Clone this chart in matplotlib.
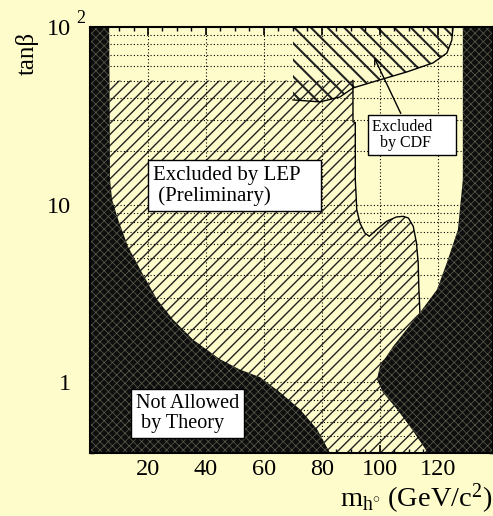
import matplotlib
matplotlib.use('Agg')
import matplotlib.pyplot as plt
from matplotlib.ticker import FixedLocator, FixedFormatter, NullFormatter

plt.rcParams['font.family'] = ['Liberation Serif', 'DejaVu Serif']
plt.rcParams['mathtext.fontset'] = 'custom'
plt.rcParams['mathtext.rm'] = 'Liberation Serif'
plt.rcParams['mathtext.it'] = 'Liberation Serif:italic'

BG = '#fefccb'

# --------- contours in the (m_h, tan beta) plane ---------
# region forbidden by theory, low-mass side
theory_left_m = [6.6, 6.9, 7.6, 9.7, 13.1, 17.9, 23.1, 28.6, 35.5, 44.8, 51.7, 58.6, 65.5, 72.4, 78.3, 82.8]
theory_left_t = [100, 13.8, 10.7, 8.24, 5.81, 4.15, 2.93, 2.26, 1.74, 1.35, 1.18, 1.07, 0.88, 0.705, 0.545, 0.4]

# region forbidden by theory, high-mass side
theory_right_m = [128.6, 128.6, 126.9, 123.1, 119.7, 113.8, 104.5, 100, 99, 101, 105.9, 110.3, 116.6]
theory_right_t = [100, 13.8, 7.24, 4.72, 3.33, 2.47, 1.59, 1.23, 1.04, 0.88, 0.705, 0.566, 0.4]

# LEP exclusion contour (valid up to tan beta = 50)
lep_m = [90.7, 90.7, 91.5, 91.5, 91.8, 92.0, 93.1, 94.8, 96.3, 98.9, 102.3, 105.7, 108.0,
         109.8, 111.5, 112.6, 113.2, 113.4, 113.8, 120]
lep_t = [50, 29.3, 29.0, 13.8, 11.1, 9.37, 7.89, 6.93, 6.64, 7.24, 8.06, 8.53, 8.6,
         8.42, 7.55, 6.09, 4.7, 3.47, 2.46, 0.4]
lep_tmax = 50

# CDF exclusion contour
cdf_m = [70, 70, 79.3, 86.2, 90.7, 97.6, 109.3, 118.3, 123.1, 124.8, 125.2]
cdf_t = [100, 38.9, 37.9, 40.4, 45.4, 49.1, 55.9, 62.8, 71.4, 84.5, 100]

xlim = (0, 139)
ylim = (0.4, 100)
x_ticks = [20, 40, 60, 80, 100, 120]
x_labels = ['20', '40', '60', '80', '100', '120']
y_ticks = [1, 10, 100]
y_labels = ['1', '10', '10']

fig = plt.figure(figsize=(4.93, 5.16), dpi=100, facecolor=BG)
ax = fig.add_axes([0.1826, 0.122, 0.8174, 0.8256])
ax.set_facecolor(BG)
ax.set_yscale('log')
ax.set_xlim(*xlim)
ax.set_ylim(*ylim)

# LEP excluded area: from the left edge out to the contour, below tan beta = 50
lep_poly_m = [xlim[0]] + lep_m + [xlim[0]]
lep_poly_t = [lep_tmax] + lep_t + [ylim[0]]
lep_fill = ax.fill(lep_poly_m, lep_poly_t, facecolor='none', edgecolor='#222222',
                   hatch='///', linewidth=0, zorder=1)[0]
ax.plot(lep_m, lep_t, color='black', lw=1.0, zorder=1.6)

# CDF excluded area
cdf_fill = ax.fill(cdf_m, cdf_t, facecolor='none', edgecolor='#222222',
                   hatch='\\\\', linewidth=0, zorder=1)[0]
ax.plot(cdf_m[1:], cdf_t[1:], color='black', lw=1.0, zorder=1.6)
if hasattr(lep_fill, 'set_hatch_linewidth'):
    lep_fill.set_hatch_linewidth(1.0)
    cdf_fill.set_hatch_linewidth(1.5)

# dotted grid
grid_t = [k * 10.0 ** e for e in (-1, 0, 1) for k in range(1, 10)]
for m in x_ticks:
    ax.axvline(m, color='black', ls=(0, (1, 2)), lw=0.8, zorder=1.5)
for t in grid_t:
    if ylim[0] < t < ylim[1]:
        ax.axhline(t, color='black', ls=(0, (1, 2)), lw=0.8, zorder=1.5)

# theoretically forbidden regions
for tm, tt, x0 in ((theory_left_m, theory_left_t, xlim[0]), (theory_right_m, theory_right_t, xlim[1])):
    band = ax.fill_betweenx(tt, x0, tm, facecolor='#0e0e0e', edgecolor='#5e5e4e',
                            hatch='xxxx', linewidth=0, zorder=2)
    if hasattr(band, 'set_hatch_linewidth'):
        band.set_hatch_linewidth(0.5)

# ticks
ax.xaxis.set_major_locator(FixedLocator(x_ticks))
ax.xaxis.set_major_formatter(FixedFormatter(x_labels))
ax.xaxis.set_minor_locator(FixedLocator(range(0, 140, 5)))
ax.yaxis.set_major_locator(FixedLocator(y_ticks))
ax.yaxis.set_major_formatter(FixedFormatter(y_labels))
ax.yaxis.set_minor_locator(FixedLocator(grid_t))
ax.yaxis.set_minor_formatter(NullFormatter())
ax.tick_params(which='both', direction='in', top=True, right=True, color='black')
ax.tick_params(which='major', length=6, width=1.2, labelsize=17.5)
ax.tick_params(which='minor', length=3, width=1.0)
ax.tick_params(axis='x', pad=4)
ax.tick_params(axis='y', pad=14)
for s in ax.spines.values():
    s.set_linewidth(1.5)

ax.annotate('2', xy=(0, 100), xycoords=('axes fraction', 'data'),
            xytext=(-6.5, 6.0), textcoords='offset points',
            ha='center', va='center', fontsize=13)

ax.set_ylabel('tanβ', fontsize=18, va='center')
ax.yaxis.set_label_coords(-0.156, 0.939)
fig.text(0.998, 1 - 507 / 516, r'$\mathrm{m_{h^{\circ}}\ (GeV/c^{2})}$',
         ha='right', va='baseline', fontsize=20.5)

# annotation boxes
box = dict(boxstyle='square,pad=0.25', facecolor='white', edgecolor='black', linewidth=1.0)
ax.text(21.7, 12.8, 'Excluded by LEP   \n (Preliminary)', ha='left', va='center',
        fontsize=15, bbox=box, zorder=5, linespacing=1.1)
ax.text(97.2, 24.7, 'Excluded     \n  by CDF', ha='left', va='center',
        fontsize=11.5, bbox=box, zorder=5, linespacing=1.05)
ax.text(15.9, 0.666, 'Not Allowed\n by Theory', ha='left', va='center',
        fontsize=14.5, bbox=box, zorder=5, linespacing=1.05)
ax.annotate('', xy=(97.6, 69.6), xytext=(107.6, 31.6),
            arrowprops=dict(arrowstyle='->', color='black', lw=1.0), zorder=5)

fig.savefig('out.png', dpi=100, facecolor=BG)
